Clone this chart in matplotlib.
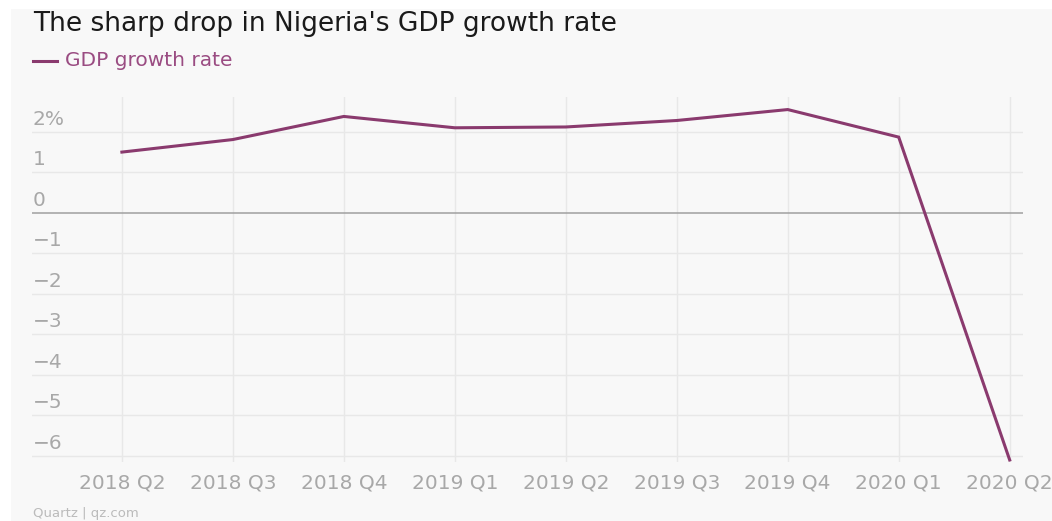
import matplotlib.pyplot as plt
import matplotlib.transforms as mtransforms
from matplotlib.patches import Rectangle

quarters = ["2018 Q2", "2018 Q3", "2018 Q4", "2019 Q1", "2019 Q2",
            "2019 Q3", "2019 Q4", "2020 Q1", "2020 Q2"]
gdp_growth = [1.50, 1.81, 2.38, 2.10, 2.12, 2.28, 2.55, 1.87, -6.10]
y_ticks = [2, 1, 0, -1, -2, -3, -4, -5, -6]
y_labels = ["2%", "1", "0", "\u22121", "\u22122", "\u22123", "\u22124", "\u22125", "\u22126"]

line_color = "#8a3a6e"
grid_color = "#e8e8e8"
label_color = "#a8a8a8"
bg = "#f8f8f8"

fig = plt.figure(figsize=(10.52, 5.21), dpi=100, facecolor="white")
fig.patches.append(Rectangle((11 / 1052, 0), 1, 1 - 9 / 521,
                             transform=fig.transFigure, facecolor=bg,
                             edgecolor="none", zorder=-10))

ax = fig.add_axes([32 / 1052, 1 - 462 / 521, (1023 - 32) / 1052, (462 - 97) / 521])
ax.set_facecolor("none")

x = list(range(len(quarters)))
ax.plot(x, gdp_growth, color=line_color, linewidth=2.2, solid_joinstyle="miter",
        zorder=5, clip_on=False)

ax.set_xlim(-0.81, 8.12)
ax.set_ylim(-6.15, 2.86)

# horizontal grid
for v in y_ticks:
    ax.axhline(v, color="#a0a0a0" if v == 0 else grid_color,
               linewidth=1.1 if v == 0 else 1.0, zorder=1 if v else 2)
# vertical grid
for xi in x:
    ax.axvline(xi, color=grid_color, linewidth=1.0, zorder=1)

for s in ax.spines.values():
    s.set_visible(False)

ax.set_yticks([])
ax.set_xticks(x)
ax.set_xticklabels(quarters)
ax.tick_params(axis="x", length=0, pad=8, labelsize=14.5, labelcolor=label_color)

# y labels sit above their gridlines, inside the plot
offset = mtransforms.offset_copy(ax.get_yaxis_transform(), fig=fig, x=1, y=3, units="dots")
for v, lab in zip(y_ticks, y_labels):
    ax.text(0, v, lab, transform=offset, ha="left", va="bottom",
            fontsize=14.5, color=label_color)

fig.text(33 / 1052, 1 - 31 / 521, "The sharp drop in Nigeria's GDP growth rate",
         fontsize=19, color="#1a1a1a", ha="left", va="baseline")

fig.lines.append(plt.Line2D([33 / 1052, 57 / 1052], [1 - 61 / 521, 1 - 61 / 521],
                            transform=fig.transFigure, color=line_color, linewidth=2.2))
fig.text(65 / 1052, 1 - 61 / 521, "GDP growth rate", fontsize=14.5,
         color="#9a4c82", ha="left", va="center")

fig.text(33 / 1052, 1 - 514 / 521, "Quartz | qz.com", fontsize=9.5,
         color="#bbbbbb", ha="left", va="center")

fig.savefig("out.png", dpi=100, facecolor=fig.get_facecolor())
